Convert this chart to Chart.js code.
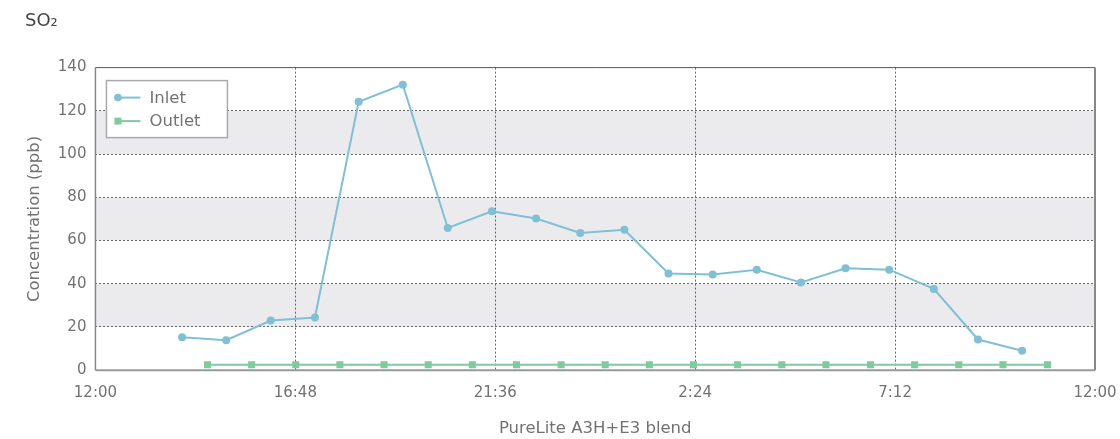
<!DOCTYPE html>
<html>
<head>
<meta charset="utf-8">
<title>SO2</title>
<script src="https://cdn.jsdelivr.net/npm/chart.js@4/dist/chart.umd.min.js"></script>
<style>
  html, body { margin: 0; padding: 0; background: #fff; }
  #wrap { width: 1120px; height: 439px; position: relative; }
</style>
</head>
<body>
<div id="wrap"><canvas id="so2Chart"></canvas></div>
<script>
// hours elapsed since 12:00
const inletHours = [2.08, 3.14, 4.21, 5.27, 6.32, 7.38, 8.46, 9.52, 10.58, 11.64,
                    12.70, 13.76, 14.82, 15.88, 16.94, 18.01, 19.06, 20.13, 21.19, 22.25];
const inletValues = [15.3, 13.9, 23.0, 24.4, 124.2, 132.1, 65.8, 73.5, 70.2, 63.5,
                     65.0, 44.7, 44.3, 46.5, 40.6, 47.2, 46.5, 37.6, 14.2, 9.0];

const outletHours = [2.69, 3.75, 4.81, 5.87, 6.93, 7.99, 9.05, 10.11, 11.18, 12.24,
                     13.30, 14.36, 15.42, 16.48, 17.54, 18.61, 19.67, 20.73, 21.79, 22.86];
const outletValues = [2.5, 2.5, 2.5, 2.5, 2.5, 2.5, 2.5, 2.5, 2.5, 2.5,
                      2.5, 2.5, 2.5, 2.5, 2.5, 2.5, 2.5, 2.5, 2.5, 2.5];

const xTickHours = [0, 4.8, 9.6, 14.4, 19.2, 24];
const xTickLabels = ['12:00', '16:48', '21:36', '2:24', '7:12', '12:00'];
const yBands = [[20, 40], [60, 80], [100, 120]];

const INLET_COLOR = '#80c0d6';
const OUTLET_COLOR = '#80cb9c';
const FONT = '"DejaVu Sans", sans-serif';
const TEXT_COLOR = '#727272';

Chart.defaults.font.family = FONT;
Chart.defaults.color = TEXT_COLOR;

const toPoints = (xs, ys) => xs.map((x, i) => ({ x: x, y: ys[i] }));

// grey stripes behind the grid
const bandPlugin = {
    id: 'bands',
    beforeDraw(chart) {
        const { ctx, chartArea, scales } = chart;
        ctx.save();
        ctx.fillStyle = '#ebebee';
        yBands.forEach(b => {
            const top = scales.y.getPixelForValue(b[1]);
            const bottom = scales.y.getPixelForValue(b[0]);
            ctx.fillRect(chartArea.left, top, chartArea.right - chartArea.left, bottom - top);
        });
        ctx.restore();
    }
};

// plot frame plus boxed legend in the upper left corner
const framePlugin = {
    id: 'frame',
    afterDatasetsDraw(chart) {
        const { ctx, chartArea: a } = chart;
        ctx.save();
        const line = (x1, y1, x2, y2, w, c) => {
            ctx.beginPath();
            ctx.lineWidth = w;
            ctx.strokeStyle = c;
            ctx.moveTo(x1, y1);
            ctx.lineTo(x2, y2);
            ctx.stroke();
        };
        line(a.left, a.top, a.right, a.top, 1, '#555');
        line(a.right, a.top, a.right, a.bottom, 2, '#888');
        line(a.left, a.bottom, a.right, a.bottom, 2, '#999');
        line(a.left, a.top, a.left, a.bottom, 1.5, '#888');

        // legend
        const bx = a.left + 11, by = a.top + 13, bw = 121, bh = 57;
        ctx.fillStyle = '#fff';
        ctx.fillRect(bx, by, bw, bh);
        ctx.lineWidth = 1.5;
        ctx.strokeStyle = '#aaa';
        ctx.strokeRect(bx, by, bw, bh);

        ctx.font = '16.5px ' + FONT;
        ctx.textBaseline = 'middle';
        chart.data.datasets.forEach((ds, i) => {
            const y = by + 17 + i * 23.5;
            line(bx + 10, y, bx + 34, y, 2, ds.borderColor);
            ctx.fillStyle = ds.borderColor;
            if (ds.pointStyle === 'rect') {
                ctx.fillRect(bx + 8, y - 3.5, 7, 7);
            } else {
                ctx.beginPath();
                ctx.arc(bx + 11.5, y, 3.8, 0, Math.PI * 2);
                ctx.fill();
            }
            ctx.fillStyle = TEXT_COLOR;
            ctx.fillText(ds.label, bx + 43, y + 1);
        });
        ctx.restore();
    }
};

const ctx = document.getElementById('so2Chart').getContext('2d');
new Chart(ctx, {
    type: 'line',
    data: {
        datasets: [{
            label: 'Inlet',
            data: toPoints(inletHours, inletValues),
            borderColor: INLET_COLOR,
            backgroundColor: INLET_COLOR,
            borderWidth: 2,
            pointStyle: 'circle',
            pointRadius: 4,
            pointBorderWidth: 0,
            tension: 0
        }, {
            label: 'Outlet',
            data: toPoints(outletHours, outletValues),
            borderColor: OUTLET_COLOR,
            backgroundColor: OUTLET_COLOR,
            borderWidth: 2,
            pointStyle: 'rect',
            pointRadius: 5,
            pointBorderWidth: 0,
            tension: 0
        }]
    },
    options: {
        responsive: true,
        maintainAspectRatio: false,
        animation: false,
        layout: { padding: { top: 11, left: 25, right: 25, bottom: 0 } },
        plugins: {
            legend: { display: false },
            tooltip: { enabled: false },
            title: {
                display: true,
                text: 'SO₂',
                align: 'start',
                color: '#444',
                font: { size: 18, weight: 'normal' },
                padding: { top: 0, bottom: 35 }
            }
        },
        scales: {
            x: {
                type: 'linear',
                min: 0,
                max: 24,
                afterBuildTicks: axis => { axis.ticks = xTickHours.map(v => ({ value: v })); },
                afterFit: axis => { axis.paddingRight = 0; },
                ticks: {
                    font: { size: 15 },
                    padding: 14,
                    maxRotation: 0,
                    callback: (value, index) => xTickLabels[index]
                },
                grid: {
                    drawTicks: false,
                    lineWidth: 1,
                    color: c => (c.index === 0 || c.index === xTickHours.length - 1) ? 'rgba(0,0,0,0)' : '#666'
                },
                border: { display: false, dash: [2, 2] },
                title: {
                    display: true,
                    text: 'PureLite A3H+E3 blend',
                    font: { size: 16.5 },
                    padding: { top: 3, bottom: 0 }
                }
            },
            y: {
                min: 0,
                max: 140,
                ticks: { stepSize: 20, font: { size: 15 }, padding: 9 },
                grid: {
                    drawTicks: false,
                    lineWidth: 1,
                    color: c => (c.tick.value === 0 || c.tick.value === 140) ? 'rgba(0,0,0,0)' : '#666'
                },
                border: { display: false, dash: [2, 2] },
                title: {
                    display: true,
                    text: 'Concentration (ppb)',
                    font: { size: 16.5 },
                    padding: { top: 0, bottom: 4 }
                }
            }
        }
    },
    plugins: [bandPlugin, framePlugin]
});
</script>
</body>
</html>
